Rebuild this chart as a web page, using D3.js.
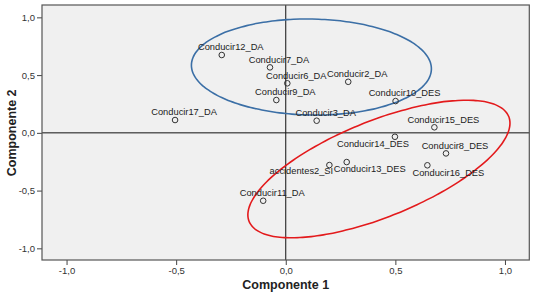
<!DOCTYPE html>
<html><head><meta charset="utf-8">
<script src="https://cdn.jsdelivr.net/npm/d3@7"></script>
<style>body{margin:0;background:#fff}svg{display:block}</style>
</head><body>
<svg id="c" width="544" height="294"></svg>
<script>
// Data
const labels = ["Conducir12_DA","Conducir7_DA","Conducir6_DA","Conducir2_DA","Conducir9_DA","Conducir10_DES","Conducir3_DA","Conducir17_DA","Conducir15_DES","Conducir14_DES","Conducir8_DES","accidentes2_SI","Conducir13_DES","Conducir16_DES","Conducir11_DA"];
const comp1 = [-0.292,-0.072,0.007,0.285,-0.043,0.501,0.141,-0.505,0.678,0.498,0.731,0.199,0.278,0.646,-0.103];
const comp2 = [0.674,0.567,0.429,0.442,0.284,0.275,0.105,0.111,0.048,-0.034,-0.178,-0.279,-0.253,-0.281,-0.588];
const xTicks = [-1.0,-0.5,0.0,0.5,1.0];
const yTicks = [-1.0,-0.5,0.0,0.5,1.0];
const xDomain = [-1.112,1.111];
const yDomain = [-1.101,1.107];

// label nudges (pixels, label center relative to point)
const labelNudge = {"Conducir14_DES":[-22,7],"accidentes2_SI":[-28,6],"Conducir13_DES":[23,7],"Conducir16_DES":[21,7],"Conducir10_DES":[9,-8]};

const svg = d3.select("#c");
const L=42,R=529.3,T=5,B=260;
const x = d3.scaleLinear().domain(xDomain).range([L,R]);
const y = d3.scaleLinear().domain(yDomain).range([B,T]);
const fmt = d => d3.format(".1f")(d).replace(".",",").replace("−","-");

svg.append("rect").attr("x",L).attr("y",T).attr("width",R-L).attr("height",B-T).attr("fill","#f0f0f0");

// axes
const gx = svg.append("g").attr("transform",`translate(0,${B})`)
  .call(d3.axisBottom(x).tickValues(xTicks).tickFormat(fmt).tickSize(5).tickPadding(2));
const gy = svg.append("g").attr("transform",`translate(${L},0)`)
  .call(d3.axisLeft(y).tickValues(yTicks).tickFormat(fmt).tickSize(5).tickPadding(2));
[gx,gy].forEach(g=>{
  g.select(".domain").remove();
  g.selectAll(".tick line").attr("stroke","#444");
  g.selectAll(".tick text").attr("fill","#333").style("font-family","Liberation Sans, Arial, sans-serif").style("font-size","9.5px");
});

// zero lines
svg.append("line").attr("x1",x(0)).attr("x2",x(0)).attr("y1",T).attr("y2",B).attr("stroke","#111").attr("stroke-width",1);
svg.append("line").attr("x1",L).attr("x2",R).attr("y1",y(0)).attr("y2",y(0)).attr("stroke","#111").attr("stroke-width",1);

// ellipses (center in data units, semi-axes in px, rotation in degrees)
const ellipses = [
  {cx:0.117, cy:0.570, a:120, b:48, rot:1, color:"#3b6fa6"},
  {cx:0.425, cy:-0.313, a:140, b:48, rot:-22, color:"#e31a1c"}
];
ellipses.forEach(e=>{
  const c = [x(e.cx), y(e.cy)], th = e.rot*Math.PI/180;
  const pts = d3.range(0,361,3).map(t=>{const r=t*Math.PI/180;
    return [c[0]+e.a*Math.cos(th)*Math.cos(r)-e.b*Math.sin(th)*Math.sin(r),
            c[1]+e.a*Math.sin(th)*Math.cos(r)+e.b*Math.cos(th)*Math.sin(r)];});
  svg.append("path").attr("d",d3.line().curve(d3.curveCardinalClosed)(pts.slice(0,-1)))
    .attr("fill","none").attr("stroke",e.color).attr("stroke-width",1.6);
});

// points
const data = labels.map((l,i)=>({l, x:comp1[i], y:comp2[i]}));
svg.append("g").selectAll("circle").data(data).join("circle")
  .attr("cx",d=>x(d.x)).attr("cy",d=>y(d.y)).attr("r",2.8)
  .attr("fill","none").attr("stroke","#333").attr("stroke-width",1);
svg.append("g").selectAll("text").data(data).join("text")
  .attr("x",d=>x(d.x)+(labelNudge[d.l]||[9,-8])[0])
  .attr("y",d=>y(d.y)+(labelNudge[d.l]||[9,-8])[1]+3.3)
  .attr("text-anchor","middle").attr("fill","#222")
  .style("font-family","Liberation Sans, Arial, sans-serif").style("font-size","9.3px")
  .text(d=>d.l);

// frame
svg.append("rect").attr("x",L).attr("y",T).attr("width",R-L).attr("height",B-T).attr("fill","none").attr("stroke","#555").attr("stroke-width",1.2);

// titles
svg.append("text").attr("x",(x(0))).attr("y",289).attr("text-anchor","middle")
  .style("font-family","Liberation Sans, Arial, sans-serif").style("font-size","12.5px").style("font-weight","bold").attr("fill","#222")
  .text("Componente 1");
svg.append("text").attr("transform",`translate(16,${y(0)}) rotate(-90)`).attr("text-anchor","middle")
  .style("font-family","Liberation Sans, Arial, sans-serif").style("font-size","12.5px").style("font-weight","bold").attr("fill","#222")
  .text("Componente 2");
</script>
</body></html>
